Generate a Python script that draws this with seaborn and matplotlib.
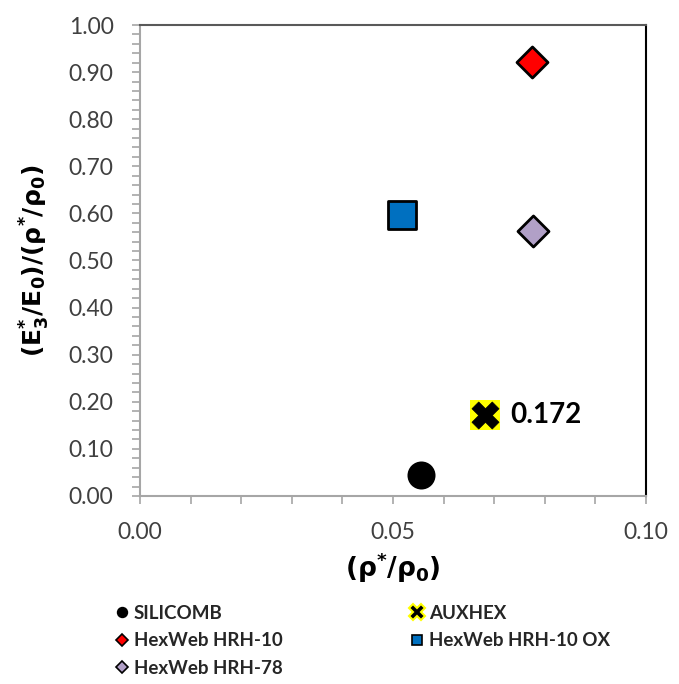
#!/usr/bin/env python3

import matplotlib
matplotlib.use("Agg")
import matplotlib.pyplot as plt
import pandas as pd
import seaborn as sns
from matplotlib.lines import Line2D
from matplotlib.ticker import MultipleLocator, FormatStrFormatter

sns.set_theme(style="white")

FONT = "Lato"
plt.rcParams["font.family"] = [FONT, "DejaVu Sans"]
plt.rcParams["mathtext.fontset"] = "dejavusans"

# data
names = ["SILICOMB", "AUXHEX", "HexWeb HRH-10", "HexWeb HRH-10 OX", "HexWeb HRH-78"]
rel_density = [0.0555, 0.0682, 0.0775, 0.0518, 0.0777]
rel_modulus = [0.045, 0.172, 0.922, 0.597, 0.563]
auxhex_label = "0.172"

STYLE = {
    "SILICOMB": dict(marker="o", color="black", s=330, ms=7),
    "AUXHEX": dict(marker="X", color="black", s=380, ms=11),
    "HexWeb HRH-10": dict(marker="D", color="#ff0000", s=250, ms=6),
    "HexWeb HRH-10 OX": dict(marker="s", color="#0070c0", s=420, ms=7),
    "HexWeb HRH-78": dict(marker="D", color="#b1a0c7", s=250, ms=6),
}

df = pd.DataFrame({"name": names, "x": rel_density, "y": rel_modulus})

fig = plt.figure(figsize=(6.79, 6.84), dpi=100)
ax = fig.add_axes([140 / 679, 1 - 496 / 684, 506 / 679, 471 / 684])

for name in names:
    sub = df[df["name"] == name]
    st = STYLE[name]
    if name == "AUXHEX":
        # yellow square behind the black cross
        sns.scatterplot(data=sub, x="x", y="y", marker="s", s=470,
                        color="#ffff00", edgecolor="none", ax=ax, zorder=3)
        sns.scatterplot(data=sub, x="x", y="y", marker="X", s=st["s"],
                        color="black", edgecolor="black", linewidth=0.5,
                        ax=ax, zorder=4)
    else:
        sns.scatterplot(data=sub, x="x", y="y", marker=st["marker"], s=st["s"],
                        color=st["color"], edgecolor="black", linewidth=2,
                        ax=ax, zorder=3)

aux = df[df["name"] == "AUXHEX"].iloc[0]
ax.annotate(auxhex_label, (aux["x"], aux["y"]), xytext=(18, 0),
            textcoords="offset points", va="center", ha="left",
            fontsize=20, fontweight="bold", color="black")

ax.set_xlim(0, 0.10)
ax.set_ylim(0, 1.0)
ax.xaxis.set_major_locator(MultipleLocator(0.05))
ax.xaxis.set_minor_locator(MultipleLocator(0.01))
ax.yaxis.set_major_locator(MultipleLocator(0.10))
ax.yaxis.set_minor_locator(MultipleLocator(0.02))
ax.xaxis.set_major_formatter(FormatStrFormatter("%.2f"))
ax.yaxis.set_major_formatter(FormatStrFormatter("%.2f"))

ax.tick_params(axis="both", which="both", direction="out", color="#a6a6a6",
               width=1.2, length=6, labelsize=16.5, labelcolor="#404040",
               bottom=True, left=True)
ax.tick_params(axis="x", which="major", pad=13)
ax.tick_params(axis="y", which="major", pad=13)

for side in ["left", "bottom"]:
    ax.spines[side].set_color("#a6a6a6")
    ax.spines[side].set_linewidth(1.5)
ax.spines["top"].set_color("#595959")
ax.spines["top"].set_linewidth(1.5)
ax.spines["right"].set_color("black")
ax.spines["right"].set_linewidth(1.5)

ax.set_xlabel(r"$\mathbf{(\rho^{*}/\rho_{0})}$", fontsize=19, labelpad=5,
              color="black")
ax.set_ylabel(r"$\mathbf{(E^{*}_{3}/E_{0})/(\rho^{*}/\rho_{0})}$", fontsize=18,
              labelpad=12, color="black")

handles = []
for name in ["SILICOMB", "HexWeb HRH-10", "HexWeb HRH-78", "AUXHEX",
             "HexWeb HRH-10 OX"]:
    st = STYLE[name]
    if name == "AUXHEX":
        h = Line2D([], [], linestyle="none", marker="X", markersize=st["ms"],
                   markerfacecolor="black", markeredgecolor="#ffff00",
                   markeredgewidth=1.5)
    else:
        h = Line2D([], [], linestyle="none", marker=st["marker"],
                   markersize=st["ms"], markerfacecolor=st["color"],
                   markeredgecolor="black", markeredgewidth=1.2)
    handles.append(h)

labels = ["SILICOMB", "HexWeb HRH-10", "HexWeb HRH-78", "AUXHEX",
          "HexWeb HRH-10 OX"]
fig.legend(handles, labels, loc="upper left", bbox_to_anchor=(98 / 679, 1 - 588 / 684),
           ncol=2, frameon=False, handlelength=0.8, handletextpad=0.2,
           columnspacing=6.8, labelspacing=0.55,
           prop={"family": FONT, "weight": "bold", "size": 13.5})

fig.savefig("out.png", dpi=100)
